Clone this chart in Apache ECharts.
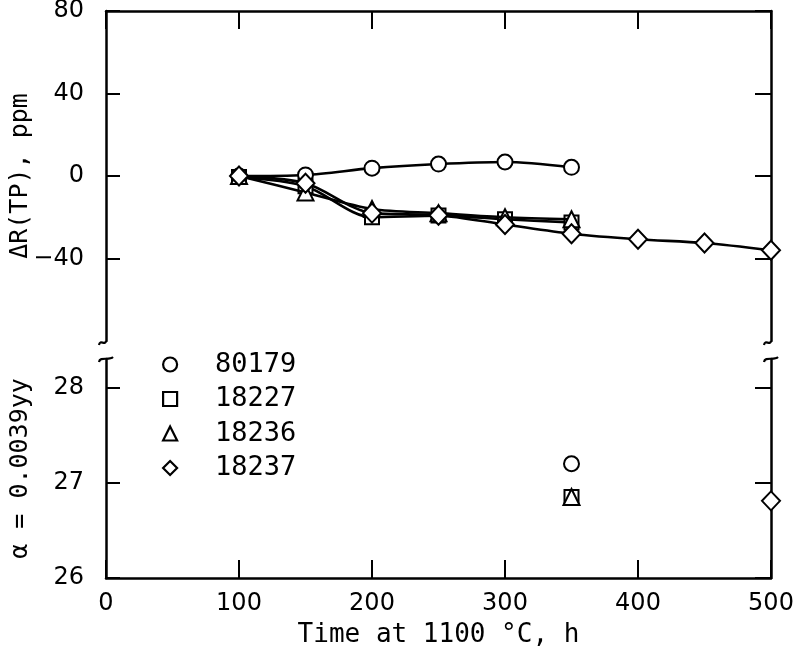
<!DOCTYPE html>
<html>
<head>
<meta charset="utf-8">
<script src="https://cdn.jsdelivr.net/npm/echarts@6/dist/echarts.min.js"></script>
<style>html,body{margin:0;padding:0;background:#fff}#c{width:800px;height:648px}</style>
</head>
<body>
<div id="c"></div>
<script>
const times = [100, 150, 200, 250, 300, 350, 400, 450, 500];
const s80179 = [0, 0.5, 3.8, 5.8, 6.8, 4.2];
const s18227 = [-0.5, -5, -20, -19.2, -21, -22.5];
const s18236 = [0, -8, -16, -18, -20, -21];
const s18237 = [0, -3.5, -18, -19, -23.5, -28, -30.7, -32.5, -36];
const a80179 = [[350, 27.2]];
const a18227 = [[350, 26.85]];
const a18236 = [[350, 26.85]];
const a18237 = [[500, 26.81]];
const names = ['80179', '18227', '18236', '18237'];
const symbols = ['emptyCircle', 'emptyRect', 'emptyTriangle', 'emptyDiamond'];
const xTicks = [0, 100, 200, 300, 400, 500];
const topTicks = [-40, 0, 40, 80];
const botTicks = [26, 27, 28];

const MONO = 'DejaVu Sans Mono';
const SANS = 'DejaVu Sans';
const pair = (ys) => ys.map((v, i) => [times[i], v]);
const symSizes = [15, 14, 16, [18, 19]];

const chart = echarts.init(document.getElementById('c'));
const axisLine = { show: true, onZero: false, lineStyle: { color: '#000', width: 2.5 } };
const tickStyle = { color: '#000', width: 2 };

const topSeries = [s80179, s18227, s18236, s18237].map((d, i) => ({
  name: names[i], type: 'line', xAxisIndex: 0, yAxisIndex: 0,
  data: pair(d), smooth: 0.3, symbol: symbols[i], symbolSize: symSizes[i],
  lineStyle: { color: '#000', width: 2.6 },
  itemStyle: { color: '#000', borderWidth: 2.6 }, z: 3 + i
}));
const botSeries = [a80179, a18227, a18236, a18237].map((d, i) => ({
  name: names[i], type: 'scatter', xAxisIndex: 1, yAxisIndex: 2,
  data: d, symbol: symbols[i], symbolSize: symSizes[i],
  itemStyle: { color: '#000', borderWidth: 2.6, opacity: 1 }
}));

chart.setOption({
  animation: false,
  backgroundColor: '#fff',
  grid: [
    { left: 106, right: 29, top: 11, height: 330, containLabel: false, outerBoundsMode: 'none' },
    { left: 106, right: 29, top: 359, bottom: 70, containLabel: false, outerBoundsMode: 'none' }
  ],
  legend: {
    orient: 'vertical', left: 157, top: 346,
    itemWidth: 14, itemHeight: 14, itemGap: 7.5,
    textStyle: { fontFamily: MONO, fontSize: 27, color: '#000', padding: [0, 0, 0, 33] },
    itemStyle: { color: '#fff', borderColor: '#000', borderWidth: 2.2 },
    data: names.map((n, i) => ({ name: n, icon: ['circle', 'rect', 'triangle', 'diamond'][i] }))
  },
  xAxis: [
    { type: 'value', gridIndex: 0, position: 'top', min: 0, max: 500, interval: 100,
      axisLine, axisTick: { show: true, inside: true, length: 18, lineStyle: tickStyle },
      axisLabel: { show: false }, splitLine: { show: false } },
    { type: 'value', gridIndex: 1, position: 'bottom', min: 0, max: 500, interval: 100,
      axisLine, axisTick: { show: true, inside: true, length: 18, lineStyle: tickStyle },
      axisLabel: { show: true, margin: 14, fontFamily: SANS, fontSize: 24, color: '#000',
        customValues: xTicks },
      splitLine: { show: false },
      name: 'Time at 1100 °C, h', nameLocation: 'middle', nameGap: 44, nameMoveOverlap: false,
      nameTextStyle: { fontFamily: MONO, fontSize: 26, color: '#000' } }
  ],
  yAxis: [
    { type: 'value', gridIndex: 0, position: 'left', min: -80, max: 80,
      axisLine, axisTick: { show: true, inside: true, length: 14, lineStyle: tickStyle, customValues: topTicks },
      axisLabel: { show: true, margin: 22, fontFamily: SANS, fontSize: 24, color: '#000', customValues: topTicks,
        formatter: v => (v < 0 ? '\u2212' + Math.abs(v) : String(v)) },
      splitLine: { show: false },
      name: 'ΔR(TP), ppm', nameLocation: 'middle', nameGap: 73, nameRotate: 90, nameMoveOverlap: false,
      nameTextStyle: { fontFamily: MONO, fontSize: 25, color: '#000' } },
    { type: 'value', gridIndex: 0, position: 'right', min: -80, max: 80,
      axisLine, axisTick: { show: true, inside: true, length: 16, lineStyle: tickStyle, customValues: topTicks },
      axisLabel: { show: false }, splitLine: { show: false } },
    { type: 'value', gridIndex: 1, position: 'left', min: 26, max: 28.3,
      axisLine, axisTick: { show: true, inside: true, length: 14, lineStyle: tickStyle, customValues: botTicks },
      axisLabel: { show: true, margin: 22, fontFamily: SANS, fontSize: 24, color: '#000', customValues: botTicks },
      splitLine: { show: false },
      name: 'α = 0.0039yy', nameLocation: 'middle', nameGap: 73, nameRotate: 90, nameMoveOverlap: false,
      nameTextStyle: { fontFamily: MONO, fontSize: 25, color: '#000' } },
    { type: 'value', gridIndex: 1, position: 'right', min: 26, max: 28.3,
      axisLine, axisTick: { show: true, inside: true, length: 16, lineStyle: tickStyle, customValues: botTicks },
      axisLabel: { show: false }, splitLine: { show: false } }
  ],
  series: topSeries.concat(botSeries),
  graphic: [106, 771].flatMap(x => [
    { type: 'bezierCurve', shape: { x1: x - 7, y1: 345, cpx1: x - 6, cpy1: 339, cpx2: x - 1, cpy2: 346, x2: x + 0, y2: 341 },
      style: { stroke: '#000', lineWidth: 2.2, fill: null } },
    { type: 'bezierCurve', shape: { x1: x - 7, y1: 362, cpx1: x - 6, cpy1: 356, cpx2: x + 3, cpy2: 361, x2: x + 7, y2: 357 },
      style: { stroke: '#000', lineWidth: 2.2, fill: null } }
  ])
});
</script>
</body>
</html>
